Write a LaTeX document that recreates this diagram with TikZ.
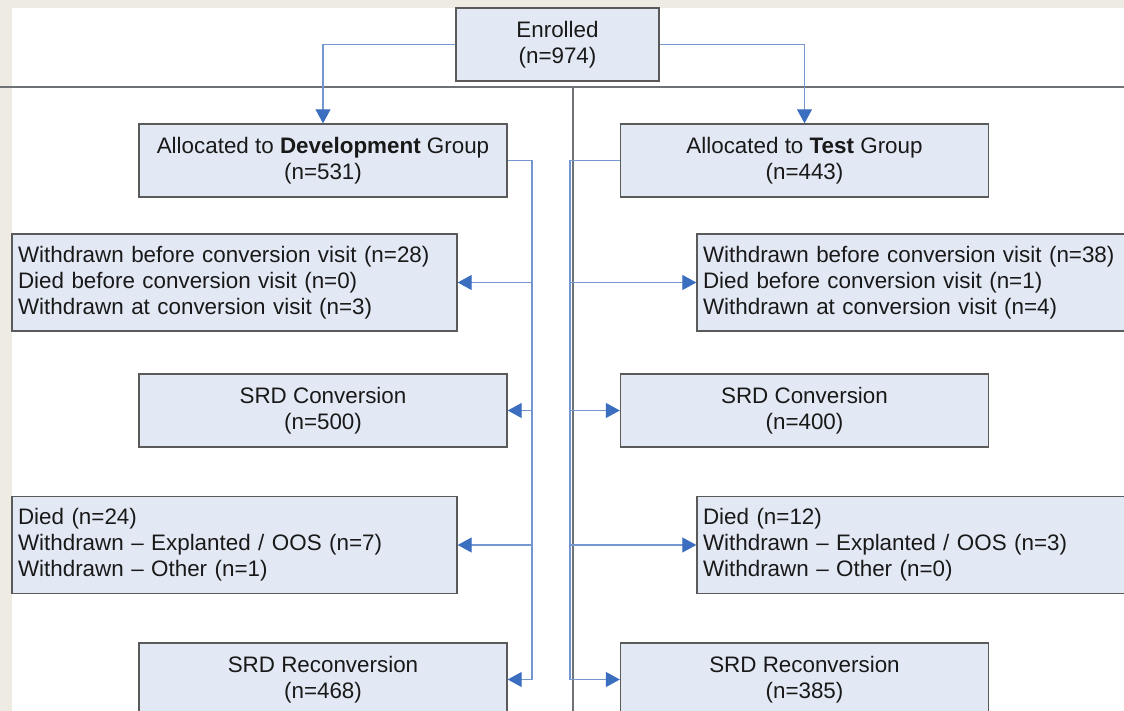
\documentclass[tikz,border=0pt]{standalone}
\usepackage{fontspec}
\setmainfont{Liberation Sans}
\usetikzlibrary{arrows.meta}
\definecolor{bgbeige}{HTML}{EEEBE2}
\definecolor{boxfill}{HTML}{E3E9F4}
\definecolor{boxline}{HTML}{5A5A5A}
\definecolor{connblue}{HTML}{7397CE}
\definecolor{tipblue}{HTML}{3C6EC0}
\definecolor{rulegray}{HTML}{6E7276}
\tikzset{
  box/.style={draw=boxline, line width=1.4pt, fill=boxfill, inner sep=0pt, font=\fontsize{22.4}{26}\selectfont, text=black!90},
  cbox/.style={box, minimum width=368pt, minimum height=73pt, align=center},
  lbox/.style={box, minimum width=445pt, minimum height=97pt, text width=433pt, align=left},
  trunk/.style={draw=connblue, line width=1.1pt},
  conn/.style={draw=connblue, line width=1.1pt, -{Triangle[length=14pt,width=15pt,fill=tipblue,color=tipblue]}},
  rule/.style={draw=rulegray, line width=1.1pt}
}
\begin{document}
\begin{tikzpicture}[x=1pt,y=-1pt]
\useasboundingbox (0,0) rectangle (1124,711);
\clip (0,0) rectangle (1124,711);
\fill[bgbeige] (0,0) rectangle (1124,711);
\fill[white] (12,8) rectangle (1124,711);
% rules
\coordinate (hl) at (0,87);
\coordinate (hr) at (1124,87);
\coordinate (vt) at (573,87);
\coordinate (vb) at (573,711);
\draw[rule] (hl) -- (hr);
\draw[rule] (vt) -- (vb);
% nodes
\node[box, minimum width=203pt, minimum height=73pt, align=center] (enr) at (557.5,44.5) {Enrolled\\(n=974)};
\node[cbox] (dev) at (323,160.5) {Allocated to \textbf{Development} Group\\(n=531)};
\node[cbox] (test) at (804.5,160.5) {Allocated to \textbf{Test} Group\\(n=443)};
\node[lbox] (wl) at (234.5,282.5) {Withdrawn before conversion visit (n=28)\\Died before conversion visit (n=0)\\Withdrawn at conversion visit (n=3)};
\node[lbox] (wr) at (919.5,282.5) {Withdrawn before conversion visit (n=38)\\Died before conversion visit (n=1)\\Withdrawn at conversion visit (n=4)};
\node[cbox] (cl) at (323,410.5) {SRD Conversion\\(n=500)};
\node[cbox] (cr) at (804.5,410.5) {SRD Conversion\\(n=400)};
\node[lbox] (dl) at (234.5,545) {Died (n=24)\\Withdrawn -- Explanted / OOS (n=7)\\Withdrawn -- Other (n=1)};
\node[lbox] (dr) at (919.5,545) {Died (n=12)\\Withdrawn -- Explanted / OOS (n=3)\\Withdrawn -- Other (n=0)};
\node[cbox] (rl) at (323,679.5) {SRD Reconversion\\(n=468)};
\node[cbox] (rr) at (804.5,679.5) {SRD Reconversion\\(n=385)};
% connectors from enrolled
\draw[conn] (enr.west) -| (dev.north);
\draw[conn] (enr.east) -| (test.north);
% development trunk
\coordinate (d1) at (532,282.5);
\coordinate (d2) at (532,410.5);
\coordinate (d3) at (532,545);
\coordinate (d4) at (532,679.5);
\draw[trunk] (dev.east) -| (d4);
\draw[conn] (d1) -- (wl.east);
\draw[conn] (d2) -- (cl.east);
\draw[conn] (d3) -- (dl.east);
\draw[conn] (d4) -- (rl.east);
% test trunk
\coordinate (t1) at (570,282.5);
\coordinate (t2) at (570,410.5);
\coordinate (t3) at (570,545);
\coordinate (t4) at (570,679.5);
\draw[trunk] (test.west) -| (t4);
\draw[conn] (t1) -- (wr.west);
\draw[conn] (t2) -- (cr.west);
\draw[conn] (t3) -- (dr.west);
\draw[conn] (t4) -- (rr.west);
\end{tikzpicture}
\end{document}
